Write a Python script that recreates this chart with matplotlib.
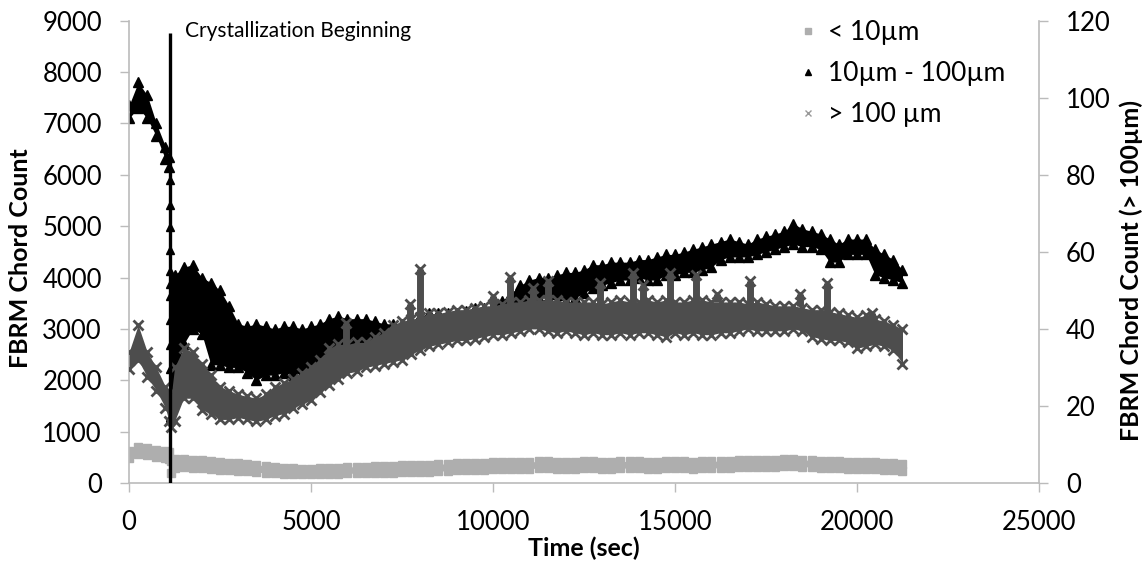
import matplotlib.pyplot as plt
from matplotlib.lines import Line2D

plt.rcParams['font.family'] = ['Lato', 'DejaVu Sans']

# sample times (sec), every ~250 s
time_s = [0, 250, 500, 750, 1000, 1100, 1150, 1250, 1500, 1750,
          2000, 2250, 2500, 2750, 3000, 3250, 3500, 3750, 4000, 4250,
          4500, 4750, 5000, 5250, 5500, 5750, 6000, 6250, 6500, 6750,
          7000, 7250, 7500, 7750, 8000, 8250, 8500, 8750, 9000, 9250,
          9500, 9750, 10000, 10250, 10500, 10750, 11000, 11250, 11500, 11750,
          12000, 12250, 12500, 12750, 13000, 13250, 13500, 13750, 14000, 14250,
          14500, 14750, 15000, 15250, 15500, 15750, 16000, 16250, 16500, 16750,
          17000, 17250, 17500, 17750, 18000, 18250, 18500, 18750, 19000, 19250,
          19500, 19750, 20000, 20250, 20500, 20750, 21000, 21250]

# < 10um (left axis), upper / lower edge of the scatter band
small_hi = [620, 700, 680, 640, 620, 600, 420, 470, 470, 450,
            440, 420, 400, 390, 380, 370, 350, 340, 320, 300,
            290, 280, 280, 290, 300, 300, 310, 320, 320, 330,
            330, 340, 350, 350, 360, 360, 370, 370, 380, 380,
            390, 390, 400, 400, 410, 410, 410, 420, 420, 410,
            410, 410, 420, 420, 410, 410, 420, 420, 420, 410,
            410, 420, 420, 420, 410, 420, 420, 430, 430, 440,
            440, 440, 450, 450, 460, 460, 450, 440, 430, 420,
            420, 410, 410, 400, 400, 390, 380, 370]
small_lo = [480, 560, 540, 500, 480, 460, 200, 300, 320, 300,
            290, 270, 260, 250, 240, 230, 210, 200, 190, 180,
            170, 170, 170, 180, 180, 180, 190, 190, 190, 200,
            200, 200, 210, 220, 220, 220, 230, 240, 250, 250,
            260, 260, 270, 270, 280, 280, 280, 290, 290, 280,
            280, 280, 290, 290, 280, 280, 290, 290, 290, 280,
            280, 290, 290, 290, 280, 290, 290, 300, 300, 310,
            310, 310, 320, 320, 330, 330, 320, 310, 300, 290,
            290, 280, 280, 270, 270, 260, 250, 240]

# 10um - 100um (left axis)
mid_hi = [7350, 7800, 7550, 7000, 6550, 6350, 3900, 4050, 4200, 4250,
          4000, 3900, 3750, 3450, 3100, 3050, 3100, 3050, 3000, 3050,
          3050, 3000, 3050, 3100, 3200, 3250, 3200, 3200, 3200, 3150,
          3100, 3100, 3100, 3150, 3250, 3300, 3300, 3300, 3300, 3350,
          3400, 3400, 3450, 3550, 3700, 3850, 3950, 4000, 4000, 4050,
          4100, 4100, 4150, 4250, 4250, 4300, 4300, 4300, 4350, 4350,
          4400, 4450, 4450, 4500, 4550, 4600, 4650, 4700, 4750, 4700,
          4650, 4750, 4800, 4850, 4900, 5050, 4950, 4900, 4850, 4750,
          4650, 4750, 4750, 4750, 4550, 4450, 4350, 4150]
mid_lo = [7100, 7300, 7100, 6750, 6300, 6150, 1300, 2000, 2700, 3000,
          2900, 2300, 2300, 2250, 2250, 2150, 2000, 2100, 2100, 2150,
          2100, 2150, 2200, 2300, 2400, 2500, 2600, 2600, 2700, 2750,
          2850, 2900, 2950, 3000, 3050, 3100, 3100, 3150, 3200, 3200,
          3250, 3250, 3300, 3300, 3350, 3450, 3550, 3600, 3600, 3550,
          3550, 3600, 3700, 3800, 3850, 3900, 3950, 3950, 4000, 3950,
          3950, 4050, 4050, 4100, 4100, 4150, 4200, 4350, 4400, 4400,
          4400, 4450, 4500, 4550, 4600, 4650, 4600, 4600, 4550, 4300,
          4300, 4450, 4450, 4450, 4050, 4000, 3950, 3900]

# points along the sudden drop at crystallization
drop_t = 1130
drop_counts = [5900, 5420, 4990, 4540, 4120, 3650, 3170, 2690, 2210, 1730, 1250]

# > 100um (right axis)
large_hi = [34, 41, 34, 30, 25, 23, 22, 30, 35, 34,
            31, 28, 25, 24, 23, 22.5, 22, 23, 25, 26,
            27, 28.5, 30, 32, 35, 36, 36, 36.5, 36.5, 38,
            39, 41, 42, 42.5, 43, 44, 44, 44.5, 45, 45,
            45.5, 46, 46, 46.5, 47, 47, 47.5, 47.5, 47.5, 47.5,
            47, 47, 47, 47, 46.5, 47, 47.5, 47, 47, 47.5,
            47, 47.5, 47, 47, 47.5, 47.5, 47, 47, 47, 47,
            46.5, 47, 46.5, 46, 46, 46, 45.5, 45, 45, 44.5,
            44, 43.5, 43, 43.5, 42.5, 42, 41, 40]
large_lo = [29.5, 32, 27.5, 24, 19.5, 16, 14.5, 16, 22, 22,
            19, 18, 16.5, 16.5, 17, 16.5, 16, 16.5, 17.5, 18,
            19.5, 20.5, 21.5, 23.5, 25.5, 27, 28.5, 29, 30, 30.5,
            31, 31.5, 32, 33.5, 34.5, 35.5, 36, 36.5, 37, 37,
            37.5, 38, 38.5, 38.5, 39, 39.5, 40, 40, 39.5, 39,
            39.5, 39, 38.5, 39, 38.5, 38.5, 39, 38.5, 39, 39,
            38.5, 38, 39, 38.5, 39, 38.5, 38.5, 39, 39, 39.5,
            40, 39.5, 39.5, 39.5, 39.5, 40, 39.5, 38, 37.5, 37,
            37, 36.5, 35, 35.5, 36, 35.5, 34.5, 31]

# isolated upward spikes of the > 100um series
spike_t = [5950, 7720, 7990, 10000, 10470, 11100, 11520, 12940, 13850,
           14120, 14860, 15590, 16140, 17060, 18430, 19170, 20400]
spike_top = [41.5, 46.5, 55.5, 48.5, 53.5, 50.5, 52.5, 52, 54.5,
             51.5, 54.5, 54, 49, 52.5, 49, 52, 44]
spike_base = [35, 41, 42, 45, 46, 46.5, 47, 46.5, 46.5,
              47, 47, 47, 47, 46.5, 46, 44.5, 42.5]

cryst_t = 1130
cryst_top = 8760  # counts
legend_labels = ['< 10µm', '10µm - 100µm', '> 100 µm']

c_small = '#AEAEAE'
c_mid = '#000000'
c_large = '#4D4D4D'
c_axis = '#BBBBBB'
tick_fs = 18.5

fig, ax = plt.subplots(figsize=(11.43, 5.65), dpi=100)
fig.subplots_adjust(left=0.1129, right=0.909, top=0.9634, bottom=0.1451)
ax2 = ax.twinx()

# < 10um band
ax.fill_between(time_s, small_lo, small_hi, color=c_small, lw=0)
ax.plot(time_s, small_hi, ls='none', marker='s', ms=5.5, color=c_small)
ax.plot(time_s, small_lo, ls='none', marker='s', ms=5.5, color=c_small)

# 10 - 100um band
ax.fill_between(time_s, mid_lo, mid_hi, color=c_mid, lw=0)
ax.plot(time_s, mid_hi, ls='none', marker='^', ms=7.5, color=c_mid)
ax.plot(time_s, mid_lo, ls='none', marker='^', ms=7.5, color=c_mid)
ax.plot([drop_t] * len(drop_counts), drop_counts, ls='none', marker='^',
        ms=6, color=c_mid)

# > 100um band (secondary axis)
x_style = dict(ls='none', marker='x', ms=6.5, mew=2, color=c_large)
ax2.fill_between(time_s, large_lo, large_hi, color=c_large, lw=0)
ax2.plot(time_s, large_hi, **x_style)
ax2.plot(time_s, large_lo, **x_style)
ax2.vlines(spike_t, spike_base, spike_top, color=c_large, lw=5)
ax2.plot(spike_t, spike_top, **x_style)

# crystallization marker
ax.set_xlim(0, 25000)
ax.set_ylim(0, 9000)
ax2.set_ylim(0, 120)
ratio = 120 / 9000
ax2.vlines(cryst_t, 0, cryst_top * ratio, color='black', lw=2.4, zorder=5)
ax2.text(1540, 8680 * ratio, 'Crystallization Beginning', fontsize=15,
         va='baseline', ha='left')

ax.set_xticks(range(0, 25001, 5000))
ax.set_yticks(range(0, 9001, 1000))
ax2.set_yticks(range(0, 121, 20))

for a in (ax, ax2):
    a.spines['top'].set_visible(False)
    for s in a.spines.values():
        s.set_color(c_axis)
        s.set_linewidth(1.2)
    a.tick_params(direction='out', length=6.5, width=1, color=c_axis,
                  labelsize=tick_fs, pad=13)
ax.spines['right'].set_visible(False)
ax2.spines['left'].set_visible(False)
ax2.spines['bottom'].set_visible(False)

ax.set_xlabel('Time (sec)', fontsize=18, fontweight='bold')
ax.set_ylabel('FBRM Chord Count', fontsize=18, fontweight='bold')
ax2.set_ylabel('FBRM Chord Count (> 100µm)', fontsize=18, fontweight='bold')
ax.xaxis.set_label_coords(0.5, -0.115)
ax.yaxis.set_label_coords(-0.107, 0.486)
ax2.yaxis.set_label_coords(1.088, 0.46)

handles = [Line2D([], [], ls='none', marker='s', ms=4.5, color=c_small),
           Line2D([], [], ls='none', marker='^', ms=4.5, color=c_mid),
           Line2D([], [], ls='none', marker='x', ms=4.5, mew=1, color='#999999')]
ax2.legend(handles, legend_labels, loc='upper left',
           bbox_to_anchor=(0.700, 0.965), bbox_transform=fig.transFigure,
           frameon=False, fontsize=19, handlelength=0.6, handletextpad=0.45,
           labelspacing=0.62, borderpad=0, borderaxespad=0)

fig.savefig('out.png', dpi=100)
